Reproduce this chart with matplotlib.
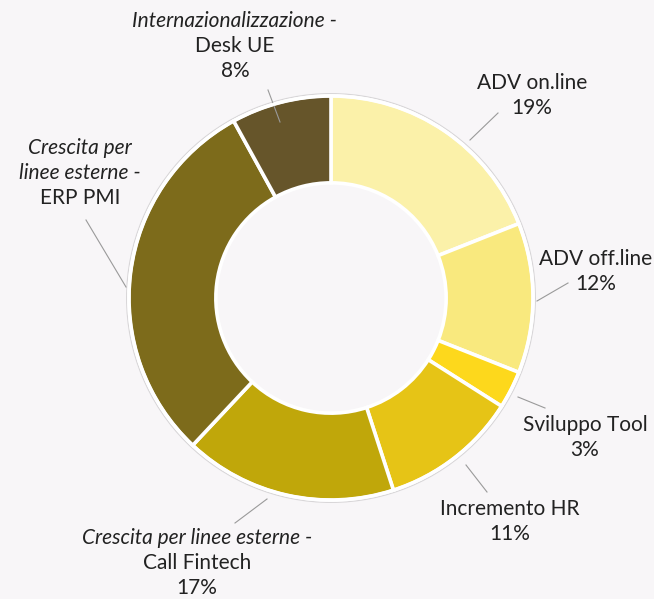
import matplotlib.pyplot as plt

# Budget split of the investment plan (percent)
categories = [
    ("", "ADV on.line"),
    ("", "ADV off.line"),
    ("", "Sviluppo Tool"),
    ("", "Incremento HR"),
    ("Crescita per linee esterne -", "Call Fintech"),
    ("Crescita per\nlinee esterne -", "ERP PMI"),
    ("Internazionalizzazione -", "Desk UE"),
]
shares = [19, 12, 3, 11, 17, 30, 8]
show_pct = [True, True, True, True, True, False, True]
colors = ["#FBF1A9", "#F9E97E", "#FDD81C", "#E6C416", "#C0A70A", "#7D6B1B", "#66552A"]

BG = "#F8F6F8"
W, H = 654, 599
CX, CY, R = 331, 298, 202  # pixel centre and radius of the ring


def px(x, y):
    return (x - CX) / R, (CY - y) / R


# label block centre (top line) and connector ends, in pixels
label_top = [(532, 83), (596, 259), (585, 425), (510, 509), (197, 538), (80, 148), (235, 21)]
conn_start = [(470, 140), (537, 301), (518, 397), (466, 465), (267, 499), (126, 287), (280, 122)]
conn_end = [(498, 113), (568, 283), (545, 408), (487, 492), (235, 523), (86, 220), (268, 90)]
LINE = 25

plt.rcParams["font.family"] = ["Lato", "DejaVu Sans"]
fig = plt.figure(figsize=(W / 100, H / 100), dpi=100, facecolor=BG)
ax = fig.add_axes([0, 0, 1, 1])
ax.set_facecolor(BG)

wedges, _ = ax.pie(shares, colors=colors, startangle=90, counterclock=False,
                   radius=1.0,
                   wedgeprops=dict(width=0.43, edgecolor="white", linewidth=2.6))

# thin white rim with a faint shadow outside the ring
ax.add_patch(plt.Circle((0, 0), 1.012, fill=False, ec="#D8D6D8", lw=0.8, zorder=0))
ax.add_patch(plt.Circle((0, 0), 1.0, fill=False, ec="white", lw=2.2, zorder=3))

for i, (italic_part, plain_part) in enumerate(categories):
    x0, y0 = px(*conn_start[i])
    x1, y1 = px(*conn_end[i])
    ax.plot([x0, x1], [y0, y1], color="#9A9A9A", lw=0.8, zorder=1)

    lx, ly = label_top[i]
    lines = []
    if italic_part:
        for part in italic_part.split("\n"):
            lines.append((part, "italic"))
    lines.append((plain_part, "normal"))
    if show_pct[i]:
        lines.append((f"{shares[i]}%", "normal"))
    for k, (txt, style) in enumerate(lines):
        tx, ty = px(lx, ly + k * LINE)
        ax.text(tx, ty, txt, ha="center", va="center", fontsize=15,
                style=style, color="#222222")

ax.set_xlim(-CX / R, (W - CX) / R)
ax.set_ylim(-(H - CY) / R, CY / R)
ax.set_aspect("auto")
ax.axis("off")

fig.savefig("out.png", dpi=100, facecolor=BG)
